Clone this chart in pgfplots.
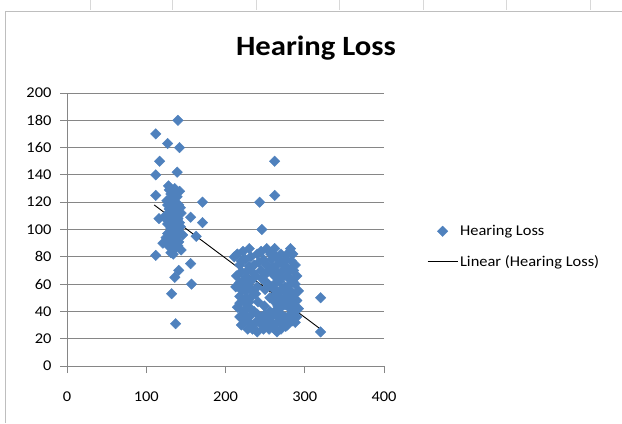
\documentclass[border=0pt]{standalone}
\usepackage{fontspec}
\setmainfont{Carlito}[FakeStretch=1.1]
\usepackage{pgfplots}
\usepackage{pgfplotstable}
\pgfplotsset{compat=1.18}

\definecolor{markblue}{RGB}{79,129,189}
\definecolor{axisgray}{RGB}{134,134,134}
\definecolor{framegray}{RGB}{190,190,190}

% measurements: x value, hearing loss
\pgfplotstableread{
x y
140 180
112 170
127 163
142 160
117 150
112 140
139 142
112 125
171 120
156 109
171 105
163 95
112 81
156 75
141 70
136 65
157 60
132 53
137 31
128 132
136 130
142 128
131 126
139 124
126 121
134 120
141 118
129 115
137 114
144 112
124 110
132 109
140 108
127 104
135 103
143 102
130 98
138 97
125 94
133 92
141 91
128 88
136 86
144 85
121 90
116 108
131 83
139 95
146 96
133 111
138 100
130 120
129 129
137 126
133 123
127 118
136 117
143 116
130 112
139 111
126 107
134 106
142 105
131 101
140 99
127 97
135 96
132 89
140 88
127 92
137 90
134 82
246 100
243 120
262 125
262 150
320 50
320 25
211 80
213 58
230 86
252 86
262 86
282 86
215 82
240 82
270 82
285 82
225 78
248 78
258 78
276 78
218 74
236 74
265 74
288 74
228 70
245 70
256 70
272 70
282 70
214 66
238 66
262 66
278 66
290 66
222 62
232 62
250 62
268 62
285 62
216 58
240 58
258 58
275 58
226 55
264 55
282 55
292 55
218 51
233 51
268 51
278 51
224 47
262 47
285 47
215 43
230 43
270 43
280 43
222 40
236 40
262 40
288 40
218 36
230 36
245 36
258 36
275 36
225 33
240 33
252 33
268 33
284 33
220 30
235 30
248 30
262 30
278 30
228 27
255 27
270 27
222 84
245 84
257 82
278 82
232 80
264 80
220 77
242 76
270 76
283 77
230 73
252 74
260 72
276 73
220 69
235 68
250 67
266 68
286 70
226 65
246 64
270 64
282 63
218 61
228 59
262 60
280 59
288 60
222 56
232 56
270 56
276 54
286 52
226 50
262 52
272 48
280 48
290 48
218 46
230 47
266 44
275 45
284 44
226 42
256 40
268 39
282 38
292 42
224 38
240 38
250 38
266 36
280 35
290 36
230 32
246 30
258 32
274 32
288 32
234 27
248 27
262 27
276 29
240 25
265 25
250 56
256 50
241 47
249 44
254 60
238 53
}\hearing

% end points of the least-squares trend line
\pgfplotstableread{
x y
110 118
320 27
}\trend

\begin{document}
\begin{tikzpicture}[x=1bp,y=1bp]
\useasboundingbox (0,0) rectangle (622,423);
% chart frame
\draw[line width=1bp, framegray] (5.5,0) -- (5.5,411.5) -- (622,411.5);
\foreach \cx in {90,172,256,339,423,506,590}
  \draw[line width=0.6bp, framegray!60] (\cx,423) -- (\cx,413);
\begin{axis}[
  at={(67bp,57bp)}, anchor=south west,
  scale only axis, width=317bp, height=273bp,
  xmin=0, xmax=400, ymin=0, ymax=200,
  xtick={0,100,...,400}, ytick={0,20,...,200},
  axis x line=bottom, axis y line=left,
  axis line style={-, axisgray, line width=0.9bp},
  ymajorgrids, grid style={axisgray, line width=0.9bp},
  tick style={axisgray, line width=0.9bp},
  tick align=outside, major tick length=7bp,
  /pgf/number format/assume math mode=true,
  ticklabel style={font=\fontsize{15}{15}\selectfont, text=black},
  xticklabel style={yshift=-15bp},
  yticklabel style={xshift=-5bp},
  title={Hearing Loss},
  title style={at={(axis description cs:0.7855,1.142)}, anchor=center,
    yshift=0pt, font=\fontsize{28}{28}\selectfont\bfseries},
  legend style={at={(axis description cs:1.1356,0.4377)}, anchor=west,
    draw=none, fill=none, font=\fontsize{15}{15}\selectfont,
    row sep=14bp, inner sep=0pt,
    nodes={inner sep=2pt}},
  legend cell align=left,
]
\addplot[only marks, mark=square*, mark size=3.7bp,
  mark options={rotate=45, fill=markblue, draw=markblue},
  legend image code/.code={\draw[mark repeat=2,mark phase=2] plot coordinates {(0bp,0bp)(15bp,0bp)(30bp,0bp)};}]
  table {\hearing};
\addlegendentry{Hearing Loss}
\addplot[black, line width=0.9bp, no marks,
  legend image code/.code={\draw[black, line width=0.9bp] (0bp,0bp) -- (30bp,0bp);}]
  table {\trend};
\addlegendentry{Linear (Hearing Loss)}
\end{axis}
\end{tikzpicture}
\end{document}
